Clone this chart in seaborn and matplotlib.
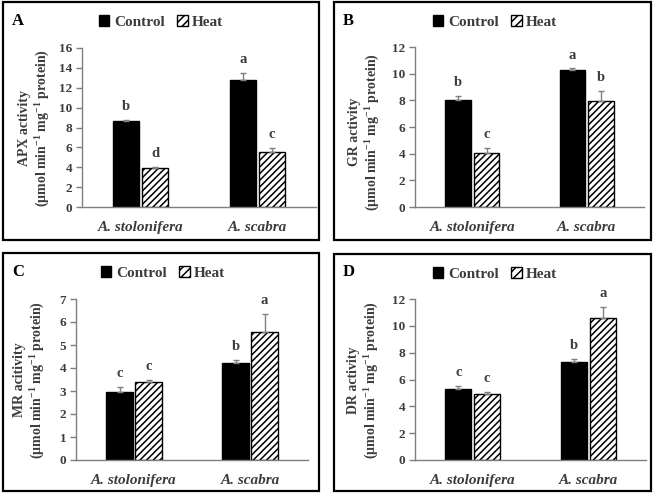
import numpy as np
import pandas as pd
import matplotlib
matplotlib.use("Agg")
import matplotlib.pyplot as plt
from matplotlib.patches import Rectangle, Patch
import seaborn as sns

# ---------------- data ----------------
categories = ["A. stolonifera", "A. scabra"]
treatments = ["Control", "Heat"]

apx_control = [8.65, 12.75]
apx_control_err = [0.15, 0.70]
apx_heat = [3.95, 5.55]
apx_heat_err = [0.12, 0.40]
apx_letters_control = ["b", "a"]
apx_letters_heat = ["d", "c"]

gr_control = [8.05, 10.27]
gr_control_err = [0.28, 0.12]
gr_heat = [4.05, 7.95]
gr_heat_err = [0.40, 0.75]
gr_letters_control = ["b", "a"]
gr_letters_heat = ["c", "b"]

mr_control = [2.97, 4.20]
mr_control_err = [0.20, 0.15]
mr_heat = [3.40, 5.55]
mr_heat_err = [0.07, 0.78]
mr_letters_control = ["c", "b"]
mr_letters_heat = ["c", "a"]

dr_control = [5.30, 7.30]
dr_control_err = [0.22, 0.25]
dr_heat = [4.95, 10.55]
dr_heat_err = [0.12, 0.88]
dr_letters_control = ["c", "b"]
dr_letters_heat = ["c", "a"]

panel_ticks = {
    "A": [0, 2, 4, 6, 8, 10, 12, 14, 16],
    "B": [0, 2, 4, 6, 8, 10, 12],
    "C": [0, 1, 2, 3, 4, 5, 6, 7],
    "D": [0, 2, 4, 6, 8, 10, 12],
}
panel_ylabels = {
    "A": "APX activity",
    "B": "GR activity",
    "C": "MR acitivity",
    "D": "DR activity",
}

# ---------------- style ----------------
sns.set_style("white")
plt.rcParams["font.family"] = ["Liberation Serif", "DejaVu Serif"]
plt.rcParams["font.weight"] = "bold"
plt.rcParams["mathtext.fontset"] = "custom"
plt.rcParams["mathtext.rm"] = "Liberation Serif:bold"
plt.rcParams["mathtext.it"] = "Liberation Serif:bold:italic"
plt.rcParams["mathtext.bf"] = "Liberation Serif:bold"
plt.rcParams["hatch.linewidth"] = 1.1

TXT = "#3c3c3c"
W, H = 655, 496
fig = plt.figure(figsize=(W / 100, H / 100), dpi=100)
fig.patch.set_facecolor("white")


def px_axes(left, right, top, bottom):
    return fig.add_axes([left / W, 1 - bottom / H, (right - left) / W, (bottom - top) / H])


def frame(x0, y0, x1, y1):
    fig.add_artist(Rectangle((x0 / W, 1 - y1 / H), (x1 - x0) / W, (y1 - y0) / H,
                             transform=fig.transFigure, fill=False,
                             edgecolor="black", linewidth=1.6))


panels = [
    # key, control, control err, heat, heat err, letters c, letters h,
    # axes (l, r, t, b), frame, legend center, panel letter pos, ylabel pos
    ("A", apx_control, apx_control_err, apx_heat, apx_heat_err,
     apx_letters_control, apx_letters_heat,
     (82, 316, 48, 207), (3, 2, 319, 240), (161, 22), (12, 21), (35, 128)),
    ("B", gr_control, gr_control_err, gr_heat, gr_heat_err,
     gr_letters_control, gr_letters_heat,
     (415, 644, 47, 207), (334, 2, 651, 240), (495, 22), (343, 21), (365, 132)),
    ("C", mr_control, mr_control_err, mr_heat, mr_heat_err,
     mr_letters_control, mr_letters_heat,
     (76, 308, 299, 460), (3, 253, 319, 491), (163, 273), (12, 272), (30, 380)),
    ("D", dr_control, dr_control_err, dr_heat, dr_heat_err,
     dr_letters_control, dr_letters_heat,
     (415, 646, 299, 460), (334, 254, 651, 491), (495, 274), (343, 272), (364, 380)),
]

for (key, ctl, ctl_e, heat, heat_e, let_c, let_h,
     axpos, frm, legc, letpos, ylpos) in panels:
    frame(*frm)
    ax = px_axes(*axpos)
    df = pd.DataFrame({
        "Species": categories * 2,
        "Treatment": ["Control"] * 2 + ["Heat"] * 2,
        "Value": list(ctl) + list(heat),
    })
    sns.barplot(data=df, x="Species", y="Value", hue="Treatment",
                order=categories, hue_order=treatments,
                palette={"Control": "black", "Heat": "white"},
                edgecolor="black", linewidth=1.0, width=0.5, gap=0.1,
                errorbar=None, legend=False, ax=ax)

    errs = [ctl_e, heat_e]
    vals = [ctl, heat]
    lets = [let_c, let_h]
    ymax = panel_ticks[key][-1]
    for i, cont in enumerate(ax.containers[:2]):
        for j, bar in enumerate(cont):
            if i == 1:
                bar.set_hatch("/////")
            xc = bar.get_x() + bar.get_width() / 2
            v = vals[i][j]
            e = errs[i][j]
            ax.errorbar(xc, v, yerr=[[0], [e]], fmt="none", ecolor="#7f7f7f",
                        elinewidth=1.0, capsize=2.5, capthick=1.0, zorder=3)
            ax.annotate(lets[i][j], (xc, v + e), xytext=(0, 5),
                        textcoords="offset points", ha="center", va="bottom",
                        fontsize=10.5, fontweight="bold", color=TXT)

    ax.set_xlim(-0.5, 1.5)
    ax.set_ylim(0, ymax)
    ax.set_yticks(panel_ticks[key])
    ax.set_yticklabels([str(t) for t in panel_ticks[key]], fontsize=9.5,
                       fontweight="bold", color=TXT)
    ax.set_xticks([0, 1])
    ax.set_xticklabels(categories, fontsize=11, fontweight="bold",
                       fontstyle="italic", color=TXT)
    ax.set_xticks([-0.5, 0.5, 1.5], minor=True)
    ax.tick_params(axis="x", which="major", length=0, pad=10)
    ax.tick_params(axis="x", which="minor", length=4, direction="out",
                   color="#7f7f7f", width=1)
    ax.tick_params(axis="y", length=4, direction="out", color="#7f7f7f",
                   width=1, pad=3, left=True)
    ax.set_xlabel("")
    ax.set_ylabel("")
    for s in ["top", "right"]:
        ax.spines[s].set_visible(False)
    for s in ["left", "bottom"]:
        ax.spines[s].set_color("#7f7f7f")
        ax.spines[s].set_linewidth(1.0)
    ax.set_facecolor("none")

    fig.text(ylpos[0] / W, 1 - ylpos[1] / H,
             panel_ylabels[key] + "\n(µmol min$^{-1}$ mg$^{-1}$ protein)",
             rotation=90, ha="center", va="center", multialignment="center",
             fontsize=10, fontweight="bold", color=TXT, linespacing=1.25)

    fig.text(letpos[0] / W, 1 - letpos[1] / H, key, ha="left", va="center",
             fontsize=12, fontweight="bold", color="black")

    handles = [Patch(facecolor="black", edgecolor="black", label="Control"),
               Patch(facecolor="white", edgecolor="black", hatch="////", label="Heat")]
    ax.legend(handles=handles, loc="center", ncol=2, frameon=False,
              bbox_to_anchor=(legc[0] / W, 1 - legc[1] / H),
              bbox_transform=fig.transFigure, handlelength=0.7,
              handleheight=0.7, handletextpad=0.3, columnspacing=0.8,
              prop={"family": "Liberation Serif", "weight": "bold", "size": 11},
              labelcolor=TXT, borderpad=0)

fig.savefig("out.png", dpi=100, facecolor="white")
